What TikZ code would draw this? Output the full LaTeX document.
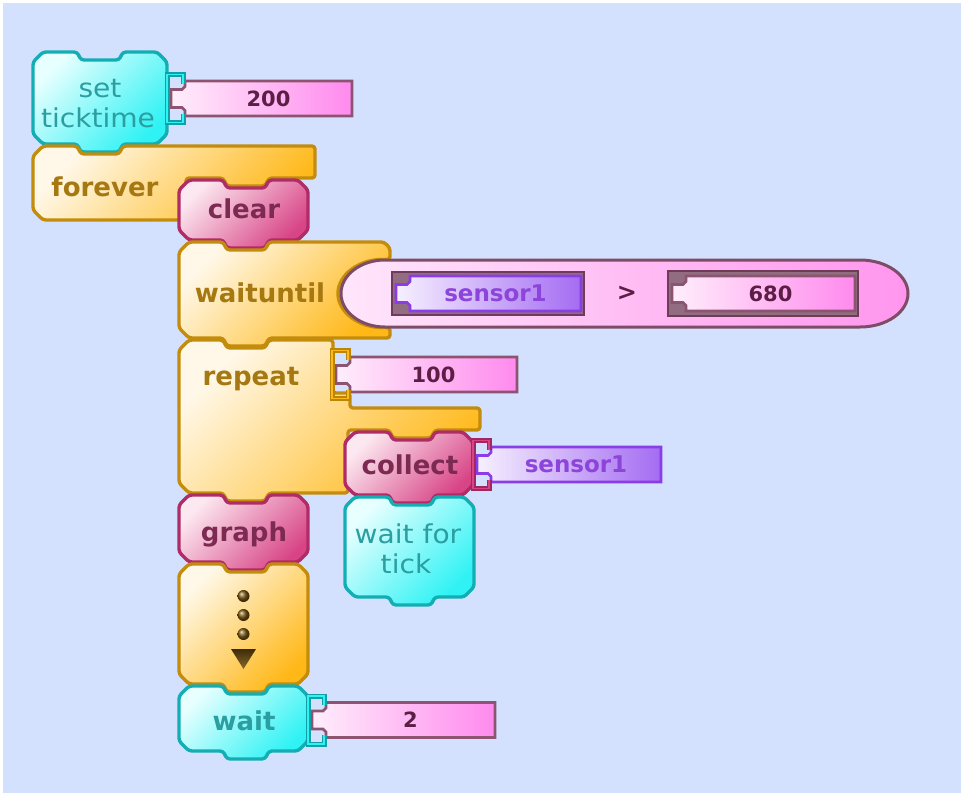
\documentclass[tikz,border=0pt]{standalone}
\usepackage{fontspec}
\setmainfont{DejaVu Sans}
\newfontfamily\thinlbl[FakeStretch=1.08]{DejaVu Sans}
\newfontfamily\boldlbl{DejaVu Sans Bold}

\definecolor{bg}{HTML}{D3E1FE}
\definecolor{cyanline}{HTML}{12AEB4}
\definecolor{cyanhi}{HTML}{E8FFFF}
\definecolor{cyanlo}{HTML}{2EF2F4}
\definecolor{cyantext}{HTML}{2A9EA0}
\definecolor{cyanbrk}{HTML}{10A0A6}
\definecolor{orline}{HTML}{C48C0C}
\definecolor{orhi}{HTML}{FFF8E8}
\definecolor{orlo}{HTML}{FFB818}
\definecolor{ortext}{HTML}{A67812}
\definecolor{orbrk}{HTML}{B8860A}
\definecolor{mgline}{HTML}{B02C66}
\definecolor{mghi}{HTML}{FCE8F0}
\definecolor{mglo}{HTML}{D84486}
\definecolor{mgtext}{HTML}{7C2A52}
\definecolor{mgbrk}{HTML}{A02860}
\definecolor{nbline}{HTML}{8C5470}
\definecolor{nbhi}{HTML}{FFEEFB}
\definecolor{nblo}{HTML}{FF8AEE}
\definecolor{nbtext}{HTML}{5C1E44}
\definecolor{puline}{HTML}{8A3CE6}
\definecolor{puhi}{HTML}{F6F0FF}
\definecolor{pulo}{HTML}{A46CF2}
\definecolor{putext}{HTML}{8C44DA}
\definecolor{prline}{HTML}{7E4C66}
\definecolor{prhi}{HTML}{FFE6FB}
\definecolor{prlo}{HTML}{FF96EE}
\definecolor{socket}{HTML}{6E3C58}
\definecolor{dotcol}{HTML}{7A5812}

\tikzset{
  blk/.style={line width=3.4pt, rounded corners=3pt, line join=round},
  cyanblk/.style={blk, draw=cyanline, left color=cyanhi, right color=cyanlo, shading angle=45},
  orblk/.style={blk, draw=orline, left color=orhi, right color=orlo, shading angle=45},
  mgblk/.style={blk, draw=mgline, left color=mghi, right color=mglo, shading angle=45},
  nbbox/.style={line width=2.6pt, draw=nbline, left color=nbhi, right color=nblo, line join=miter},
  pubox/.style={line width=2.6pt, draw=puline, left color=puhi, right color=pulo, line join=miter},
  predbox/.style={line width=3pt, draw=prline, left color=prhi, right color=prlo},
  boldtxt/.style={inner sep=0pt, anchor=base, font=\boldlbl\fontsize{26}{30}\selectfont},
  thintxt/.style={inner sep=0pt, anchor=base, font=\thinlbl\fontsize{26}{30}\selectfont},
  numtxt/.style={inner sep=0pt, font=\boldlbl\fontsize{21}{24}\selectfont, text=nbtext},
  sentxt/.style={inner sep=0pt, font=\boldlbl\fontsize{23}{27}\selectfont, text=putext},
}

% command block: style, left, top, width, height (notch on top, tab below)
\newcommand{\cmdblock}[5]{%
  \draw[#1] (#2,#3+10) -- (#2+10,#3) -- (#2+44,#3) -- (#2+48,#3+8) -- (#2+86,#3+8)
    -- (#2+90,#3) -- (#2+#4-10,#3) -- (#2+#4,#3+10) -- (#2+#4,#3+#5-10)
    -- (#2+#4-10,#3+#5) -- (#2+90,#3+#5) -- (#2+86,#3+#5+8) -- (#2+48,#3+#5+8)
    -- (#2+44,#3+#5) -- (#2+10,#3+#5) -- (#2,#3+#5-10) -- cycle;}

% input bracket: dark colour, light colour, x, centre y
\newcommand{\bracket}[4]{%
  \draw[line width=5pt, #1, line cap=butt, line join=miter]
    (#3+16,#4-15) -- (#3+16,#4-24) -- (#3,#4-24) -- (#3,#4+24) -- (#3+16,#4+24) -- (#3+16,#4+15);
  \draw[line width=1.8pt, #2, line cap=butt, line join=miter]
    (#3+16,#4-15) -- (#3+16,#4-24) -- (#3,#4-24) -- (#3,#4+24) -- (#3+16,#4+24) -- (#3+16,#4+15);}

% value box with notched left end: box style, text style, x, centre y, right, name, text
\newcommand{\valbox}[7]{%
  \draw[#1] (#3+18,#4-17.5) -- (#5,#4-17.5) -- (#5,#4+17.5) -- (#3+18,#4+17.5)
    -- (#3+18,#4+12) -- (#3+15,#4+9) -- (#3+4,#4+9) -- (#3+4,#4-9) -- (#3+15,#4-9)
    -- (#3+18,#4-12) -- cycle;
  \node[#2] (#6) at ({(#3+18+#5)/2},#4) {#7};}

\begin{document}
\begin{tikzpicture}[x=1pt,y=-1pt]
\useasboundingbox (0,0) rectangle (961,793);
\fill[white] (0,0) rectangle (961,793);
\fill[bg] (3,3) rectangle (961,793);

% ---- set ticktime ----
\cmdblock{cyanblk}{33}{52}{134}{92}
\node[thintxt, text=cyantext] (lset) at (100,97) {set};
\node[thintxt, text=cyantext] (ltick) at (98,127) {ticktime};
\valbox{nbbox}{numtxt}{167}{98.5}{352}{v200}{200}
\bracket{cyanbrk}{cyanlo}{167}{98.5}

% ---- forever ----
\draw[orblk] (33,156) -- (43,146) -- (77,146) -- (81,154) -- (119,154) -- (123,146)
  -- (315,146) -- (315,178) -- (269,178) -- (265,186) -- (227,186) -- (223,178)
  -- (186,178) -- (186,220) -- (43,220) -- (33,210) -- cycle;
\node[boldtxt, text=ortext] (lforever) at (105,196) {forever};

% ---- clear ----
\cmdblock{mgblk}{179}{180}{129}{60}
\node[boldtxt, text=mgtext] (lclear) at (244,218) {clear};

% ---- waituntil with its predicate ----
\draw[orblk] (179,252) -- (189,242) -- (223,242) -- (227,250) -- (265,250) -- (269,242)
  -- (384,242) -- (390,248) -- (390,259.5) -- (385,259.5)
  arc[start angle=270, end angle=90, x radius=47, y radius=34]
  -- (390,327.5) -- (390,338) -- (269,338) -- (265,346) -- (227,346) -- (223,338)
  -- (189,338) -- (179,328) -- cycle;
\node[boldtxt, text=ortext] (lwaituntil) at (260,302) {waituntil};

\draw[predbox] (385,260) -- (860,260)
  arc[start angle=-90, end angle=90, x radius=48, y radius=33.5]
  -- (385,327) arc[start angle=90, end angle=270, x radius=44, y radius=33.5] -- cycle;

\draw[socket, line width=2.6pt, fill=socket!75] (392,272) rectangle (584,315);
\valbox{pubox}{sentxt}{392}{293.5}{581}{vsensa}{sensor1}
\node[inner sep=0pt, font=\boldlbl\fontsize{24}{28}\selectfont, text=nbtext] (lgt) at (627,293) {>};
\draw[socket, line width=2.6pt, fill=socket!75] (668,271) rectangle (858,316);
\valbox{nbbox}{numtxt}{668}{293.5}{855}{v680}{680}

% ---- repeat ----
\draw[orblk] (179,350) -- (189,340) -- (223,340) -- (227,348) -- (265,348) -- (269,340)
  -- (333,340) -- (333,393) -- (350,393) -- (350,408) -- (480,408) -- (480,430)
  -- (435,430) -- (431,438) -- (393,438) -- (389,430) -- (348,430) -- (348,493)
  -- (269,493) -- (265,501) -- (227,501) -- (223,493) -- (189,493) -- (179,483) -- cycle;
\node[boldtxt, text=ortext] (lrepeat) at (251,385) {repeat};
\valbox{nbbox}{numtxt}{332}{374.5}{517}{v100}{100}
\bracket{orbrk}{orlo}{332}{374.5}

% ---- collect ----
\cmdblock{mgblk}{345}{432}{128}{63}
\node[boldtxt, text=mgtext] (lcollect) at (410,474) {collect};
\valbox{pubox}{sentxt}{473}{464.5}{661}{vsensb}{sensor1}
\bracket{mgbrk}{mglo}{473}{464.5}

% ---- wait for tick ----
\cmdblock{cyanblk}{345}{497}{129}{100}
\node[thintxt, text=cyantext] (lwaitfor) at (408,543) {wait for};
\node[thintxt, text=cyantext] (ltickb) at (406,573) {tick};

% ---- graph ----
\cmdblock{mgblk}{179}{495}{129}{67}
\node[boldtxt, text=mgtext] (lgraph) at (244,541) {graph};

% ---- continuation block ----
\cmdblock{orblk}{179}{564}{129}{120}
\foreach \yy in {596,615,634} \shade[ball color=dotcol] (243.5,\yy) circle (6);
\shade[top color=dotcol!50!black, bottom color=dotcol!90] (231,649) -- (256,649) -- (243.5,669) -- cycle;

% ---- wait ----
\cmdblock{cyanblk}{179}{686}{129}{65}
\node[boldtxt, text=cyantext] (lwait) at (244,730) {wait};
\valbox{nbbox}{numtxt}{308}{720}{495}{v2}{2}
\bracket{cyanbrk}{cyanlo}{308}{720}
\end{tikzpicture}
\end{document}
